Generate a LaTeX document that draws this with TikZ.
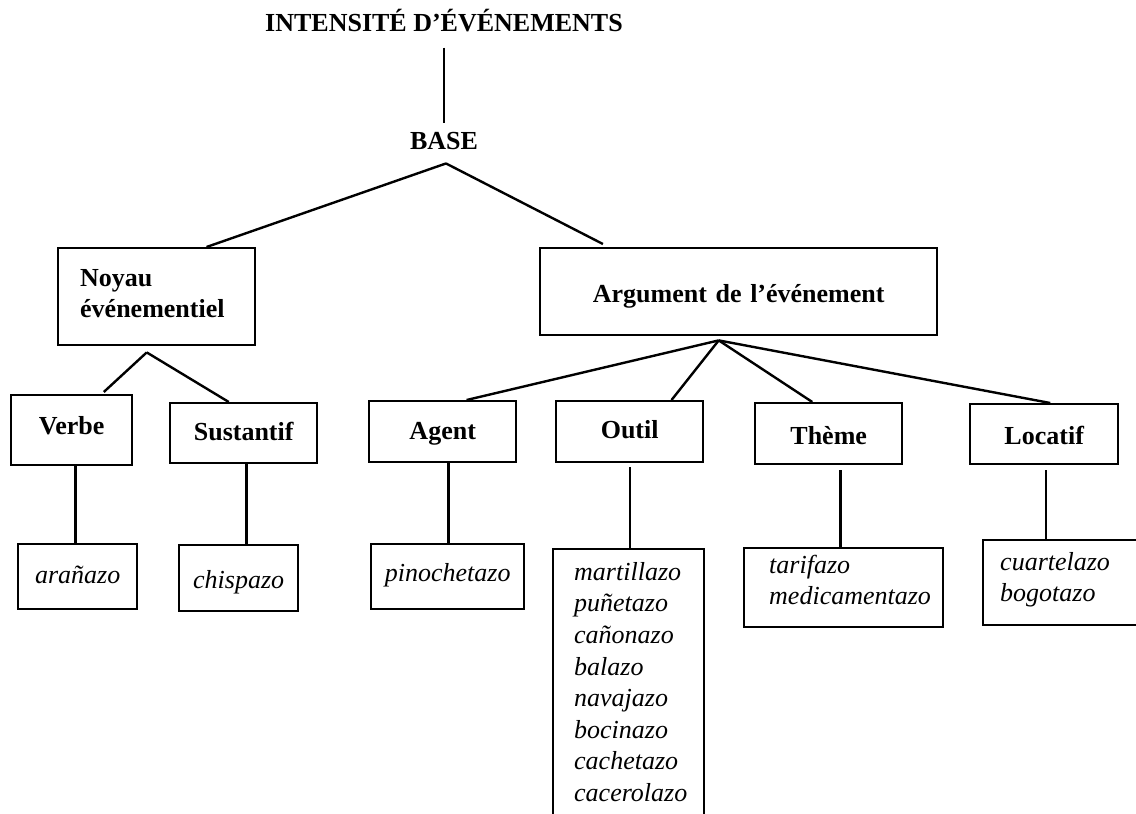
\documentclass[tikz,border=0pt]{standalone}
\usepackage{fontspec}
\setmainfont{Liberation Serif}
\usetikzlibrary{calc}
\hyphenpenalty=10000

\begin{document}
\begin{tikzpicture}[x=1pt, y=-1pt,
	head/.style={font=\fontsize{26}{31.6}\selectfont\bfseries, anchor=base},
	box/.style={draw, line width=2.4pt, anchor=north west, inner sep=0pt, align=center, font=\fontsize{26}{31.6}\selectfont\bfseries},
	leaf/.style={box, font=\fontsize{26}{31.6}\selectfont\itshape},
	list/.style={leaf, align=left},
	link/.style={line width=2.4pt}]
	\useasboundingbox (0,0) rectangle (1136,814);
	\node[head, inner ysep=16pt] (title) at (444,31) {INTENSITÉ D’ÉVÉNEMENTS};
	\node[head, inner ysep=9pt] (base) at (444,149) {BASE};
	\node[box, align=left, inner xsep=22pt, text width=153pt, text height=38pt, text depth=59pt] (noyau) at (57,247) {Noyau\\événementiel};
	\node[box, text width=397pt, text height=54pt, text depth=33pt] (arg) at (539,247) {Argument de l’événement};
	\node[box, text width=121pt, text height=39pt, text depth=31pt] (verbe) at (10,394) {Verbe};
	\node[box, text width=147pt, text height=37pt, text depth=23pt] (sustantif) at (169,402) {Sustantif};
	\node[box, text width=147pt, text height=38pt, text depth=23pt] (agent) at (368,400) {Agent};
	\node[box, text width=147pt, text height=37pt, text depth=24pt] (outil) at (555,400) {Outil};
	\node[box, text width=147pt, text height=41pt, text depth=20pt] (theme) at (754,402) {Thème};
	\node[box, text width=148pt, text height=40pt, text depth=20pt] (locatif) at (969,403) {Locatif};
	\node[leaf, text width=119pt, text height=39pt, text depth=26pt] (aranazo) at (17,543) {arañazo};
	\node[leaf, text width=119pt, text height=43pt, text depth=23pt] (chispazo) at (178,544) {chispazo};
	\node[leaf, text width=153pt, text height=37pt, text depth=28pt] (pinochetazo) at (370,543) {pinochetazo};
	\node[list, inner xsep=21pt, text width=109pt, text height=31pt, text depth=251pt] (outilList) at (552,548) {martillazo\\puñetazo\\cañonazo\\balazo\\navajazo\\bocinazo\\cachetazo\\cacerolazo};
	\node[list, inner xsep=25pt, text width=149pt, text height=25pt, text depth=54pt] (themeList) at (743,547) {tarifazo\\medicamentazo};
	\node[list, inner xsep=17pt, text width=146pt, text height=30pt, text depth=55pt] (locatifList) at (982,539) {cuartelazo\\bogotazo};
	\coordinate (baseHub) at ($(base.south)+(2,5)$);
	\coordinate (noyauHub) at ($(noyau.south west)!0.45!(noyau.south east)+(0,6)$);
	\coordinate (argHub) at ($(arg.south west)!0.45!(arg.south east)+(0,4)$);
	\draw[link] (title.south) -- (base.north);
	\draw[link] (baseHub) -- ($(noyau.north west)!0.75!(noyau.north east)$);
	\draw[link] (baseHub) -- ($(arg.north west)!0.16!(arg.north east)+(0,-3)$);
	\draw[link] (noyauHub) -- ($(verbe.north west)!0.76!(verbe.north east)+(0,-2)$);
	\draw[link] (noyauHub) -- ($(sustantif.north west)!0.4!(sustantif.north east)$);
	\foreach \n/\f in {agent/0.66, outil/0.78, theme/0.39, locatif/0.54}
		\draw[link] (argHub) -- ($(\n.north west)!\f!(\n.north east)$);
	\foreach \a/\b/\f/\g in {verbe/aranazo/0.53/0, sustantif/chispazo/0.52/0, agent/pinochetazo/0.54/0, outil/outilList/0.5/4, theme/themeList/0.58/5, locatif/locatifList/0.51/5}{
		\coordinate (top) at ($(\a.south west)!\f!(\a.south east)+(0,\g)$);
		\draw[link] (top) -- (top |- \b.north);
	}
\end{tikzpicture}
\end{document}
